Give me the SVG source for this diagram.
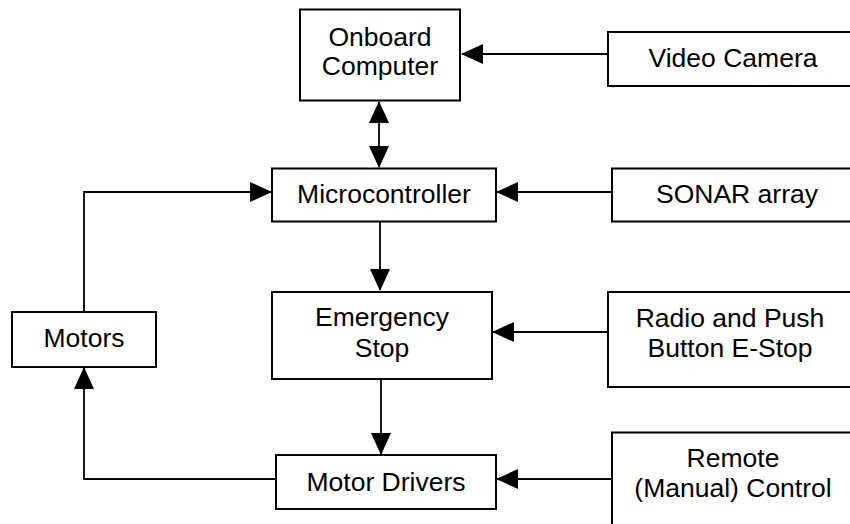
<svg xmlns="http://www.w3.org/2000/svg" width="850" height="524" viewBox="0 0 850 524">
  <style>
    .box { fill: #ffffff; stroke: #000000; stroke-width: 2; }
    .lbl { font-family: "Liberation Sans", Arial, sans-serif; font-size: 26.5px; fill: #000000; text-anchor: middle; }
    .wire { fill: none; stroke: #000000; stroke-width: 1.8; }
  </style>
  <defs>
    <marker id="arrow" markerUnits="userSpaceOnUse" markerWidth="22" markerHeight="20" viewBox="0 0 22 20" refX="21" refY="10" orient="auto-start-reverse">
      <path d="M0,0 L22,10 L0,20 Z" fill="#000000"/>
    </marker>
  </defs>
  <rect width="850" height="524" fill="#ffffff"/>

  <g id="connectors">
    <!-- Video Camera -> Onboard Computer -->
    <line class="wire" x1="608" y1="54" x2="462" y2="54" marker-end="url(#arrow)"/>
    <!-- Onboard Computer <-> Microcontroller -->
    <line class="wire" x1="379" y1="102" x2="379" y2="167" marker-start="url(#arrow)" marker-end="url(#arrow)"/>
    <!-- SONAR array -> Microcontroller -->
    <line class="wire" x1="612" y1="192" x2="497" y2="192" marker-end="url(#arrow)"/>
    <!-- Microcontroller -> Emergency Stop -->
    <line class="wire" x1="380" y1="222" x2="380" y2="290" marker-end="url(#arrow)"/>
    <!-- Radio / Push Button E-Stop -> Emergency Stop -->
    <line class="wire" x1="608" y1="332" x2="493" y2="332" marker-end="url(#arrow)"/>
    <!-- Emergency Stop -> Motor Drivers -->
    <line class="wire" x1="381" y1="380" x2="381" y2="454" marker-end="url(#arrow)"/>
    <!-- Remote Control -> Motor Drivers -->
    <line class="wire" x1="612" y1="479" x2="497" y2="479" marker-end="url(#arrow)"/>
    <!-- Motor Drivers -> Motors -->
    <polyline class="wire" points="276,479 84,479 84,368" marker-end="url(#arrow)"/>
    <!-- Motors -> Microcontroller -->
    <polyline class="wire" points="84,312 84,192 271,192" marker-end="url(#arrow)"/>
  </g>

  <g id="onboard-computer">
    <rect class="box" x="300" y="9.5" width="160" height="91"/>
    <text class="lbl" x="380" y="45.5">Onboard</text>
    <text class="lbl" x="380" y="75">Computer</text>
  </g>

  <g id="video-camera">
    <rect class="box" x="608" y="32" width="252" height="54"/>
    <text class="lbl" x="733" y="67">Video Camera</text>
  </g>

  <g id="microcontroller">
    <rect class="box" x="272" y="168.5" width="224" height="53"/>
    <text class="lbl" x="384" y="203">Microcontroller</text>
  </g>

  <g id="sonar-array">
    <rect class="box" x="612" y="168.5" width="250" height="53"/>
    <text class="lbl" x="737" y="203">SONAR array</text>
  </g>

  <g id="emergency-stop">
    <rect class="box" x="272" y="292" width="220" height="87"/>
    <text class="lbl" x="382" y="326">Emergency</text>
    <text class="lbl" x="382" y="356.5">Stop</text>
  </g>

  <g id="radio-estop">
    <rect class="box" x="608" y="292" width="252" height="95"/>
    <text class="lbl" x="730" y="326.5">Radio and Push</text>
    <text class="lbl" x="730" y="356.5">Button E-Stop</text>
  </g>

  <g id="motors">
    <rect class="box" x="12" y="312" width="144" height="55"/>
    <text class="lbl" x="84" y="347">Motors</text>
  </g>

  <g id="motor-drivers">
    <rect class="box" x="276" y="455" width="220" height="54"/>
    <text class="lbl" x="386" y="490.5">Motor Drivers</text>
  </g>

  <g id="remote-control">
    <rect class="box" x="612" y="432.5" width="250" height="100"/>
    <text class="lbl" x="733" y="467">Remote</text>
    <text class="lbl" x="733" y="497">(Manual) Control</text>
  </g>
</svg>
